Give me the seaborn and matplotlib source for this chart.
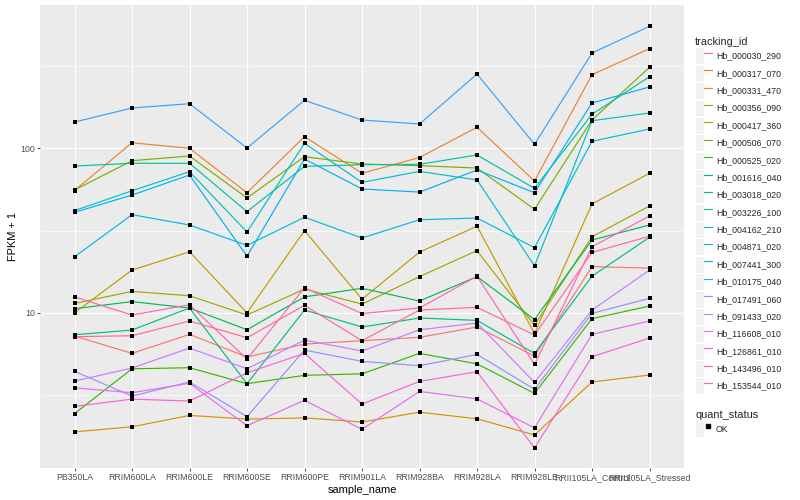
import numpy as np
import pandas as pd
import matplotlib.pyplot as plt
import seaborn as sns
from matplotlib.lines import Line2D
from matplotlib.patches import Patch
from matplotlib.legend_handler import HandlerTuple
from matplotlib.ticker import FixedLocator

# sample order on the x axis
samples = ["PB350LA", "RRIM600LA", "RRIM600LE", "RRIM600SE", "RRIM600PE",
           "RRIM901LA", "RRIM928BA", "RRIM928LA", "RRIM928LE",
           "RRII105LA_Control", "RRII105LA_Stressed"]

tracking_ids = ["Hb_000030_290", "Hb_000317_070", "Hb_000331_470", "Hb_000356_090",
                "Hb_000417_360", "Hb_000506_070", "Hb_000525_020", "Hb_001616_040",
                "Hb_003018_020", "Hb_003226_100", "Hb_004162_210", "Hb_004871_020",
                "Hb_007441_300", "Hb_010175_040", "Hb_017491_060", "Hb_091433_020",
                "Hb_116608_010", "Hb_126861_010", "Hb_143496_010", "Hb_153544_010"]

# ggplot hue palette, 20 levels
gg_colors = ["#F8766D", "#EA8331", "#D89000", "#C09B00", "#A3A500", "#7CAE00",
             "#39B600", "#00BB4E", "#00BF7D", "#00C1A3", "#00BFC4", "#00BAE0",
             "#00B0F6", "#35A2FF", "#9590FF", "#C77CFF", "#E76BF3", "#FA62DB",
             "#FF62BC", "#FF6C91"]

# FPKM + 1, one list per gene, same order as samples
hb_000030_290 = [7.23, 5.67, 7.40, 5.39, 6.46, 6.77, 7.10, 8.2, 5.46, 19.1, 18.7]
hb_000317_070 = [55.4, 108.1, 100.0, 53.7, 117.6, 70.5, 87.9, 134.2, 63.3, 280.2, 403.3]
hb_000331_470 = [1.89, 2.03, 2.38, 2.26, 2.30, 2.17, 2.49, 2.27, 1.81, 3.80, 4.19]
hb_000356_090 = [10.0, 18.2, 23.5, 10.0, 31.6, 12.1, 23.4, 33.6, 7.5, 45.9, 70.5]
hb_000417_360 = [11.4, 13.5, 12.7, 9.7, 13.95, 11.3, 16.6, 23.9, 8.4, 29.0, 44.6]
hb_000506_070 = [55.8, 84.1, 89.8, 49.9, 88.9, 80.3, 78.4, 75.9, 42.6, 148.6, 310.6]
hb_000525_020 = [2.44, 4.57, 4.64, 3.71, 4.17, 4.26, 5.67, 4.90, 3.24, 9.21, 11.0]
hb_001616_040 = [10.6, 11.7, 10.7, 7.9, 12.5, 14.1, 11.8, 16.6, 9.1, 27.7, 34.2]
hb_003018_020 = [7.36, 7.86, 10.7, 3.71, 10.4, 8.2, 9.3, 9.0, 5.67, 16.7, 28.8]
hb_003226_100 = [78.0, 81.1, 81.1, 41.2, 77.7, 79.5, 79.9, 91.1, 57.1, 160.9, 272.4]
hb_004162_210 = [41.8, 55.2, 72.1, 31.0, 107.2, 62.1, 72.4, 64.2, 19.3, 147.1, 163.9]
hb_004871_020 = [21.9, 39.5, 34.2, 25.7, 38.1, 28.5, 36.8, 37.7, 24.9, 110.3, 131.0]
hb_007441_300 = [40.8, 52.0, 68.8, 22.1, 86.1, 56.6, 54.2, 73.8, 53.7, 188.5, 235.9]
hb_010175_040 = [144.5, 175.8, 186.7, 100.4, 195.8, 148.6, 140.5, 283.0, 105.8, 379.5, 551.6]
hb_017491_060 = [4.41, 3.12, 3.80, 2.34, 5.94, 5.07, 4.77, 5.59, 3.43, 9.93, 12.25]
hb_091433_020 = [3.85, 4.62, 6.11, 4.57, 6.83, 5.86, 7.89, 8.67, 3.78, 10.4, 18.2]
hb_116608_010 = [3.50, 3.27, 3.73, 2.06, 2.94, 1.96, 3.33, 3.00, 2.00, 7.40, 8.92]
hb_126861_010 = [2.70, 2.99, 2.91, 4.32, 5.67, 2.79, 3.83, 4.39, 1.51, 5.41, 7.03]
hb_143496_010 = [12.5, 9.7, 11.2, 5.24, 14.2, 9.9, 10.7, 16.7, 4.86, 25.2, 38.8]
hb_153544_010 = [7.16, 7.26, 8.92, 7.06, 11.1, 6.77, 10.4, 10.8, 7.33, 23.3, 29.2]

series = [hb_000030_290, hb_000317_070, hb_000331_470, hb_000356_090, hb_000417_360,
          hb_000506_070, hb_000525_020, hb_001616_040, hb_003018_020, hb_003226_100,
          hb_004162_210, hb_004871_020, hb_007441_300, hb_010175_040, hb_017491_060,
          hb_091433_020, hb_116608_010, hb_126861_010, hb_143496_010, hb_153544_010]

rows = []
for tid, vals in zip(tracking_ids, series):
    for s, v in zip(samples, vals):
        rows.append({"tracking_id": tid, "sample_name": s, "fpkm1": v, "quant_status": "OK"})
df = pd.DataFrame(rows)
df["xpos"] = df["sample_name"].map({s: i for i, s in enumerate(samples)})

sns.set_theme(style="darkgrid")
plt.rcParams["font.family"] = ["Liberation Sans", "DejaVu Sans"]
plt.rcParams["axes.facecolor"] = "#EBEBEB"
plt.rcParams["figure.facecolor"] = "white"

palette = dict(zip(tracking_ids, gg_colors))

fig = plt.figure(figsize=(8, 5), dpi=100)
ax = fig.add_axes([40 / 800, 1 - 468 / 500, (684 - 40) / 800, (468 - 5) / 500])

sns.lineplot(data=df, x="xpos", y="fpkm1", hue="tracking_id", palette=palette,
             hue_order=tracking_ids, estimator=None, sort=False, linewidth=0.85,
             legend=False, ax=ax, zorder=2)
sns.scatterplot(data=df, x="xpos", y="fpkm1", color="black", marker="s", s=11,
                linewidth=0, legend=False, ax=ax, zorder=3)

ax.set_yscale("log")
ax.set_xlim(-0.6, len(samples) - 0.4)
ax.set_ylim(10 ** 0.057, 10 ** 2.871)
ax.set_xticks(range(len(samples)))
ax.set_xticklabels(samples)
ax.set_yticks([10, 100])
ax.set_yticklabels(["10", "100"])
ax.yaxis.set_minor_locator(FixedLocator([10 ** 0.5, 10 ** 1.5, 10 ** 2.5]))
ax.xaxis.set_minor_locator(FixedLocator([]))

ax.grid(which="major", color="white", linewidth=0.8)
ax.grid(which="minor", axis="y", color="white", linewidth=0.4)
ax.tick_params(which="major", length=2, width=0.6, color="#333333", labelsize=6.3,
               labelcolor="#4D4D4D", pad=1.5, bottom=True, left=True)
ax.tick_params(which="minor", length=0)
for sp in ax.spines.values():
    sp.set_visible(False)

ax.set_xlabel("sample_name", fontsize=7.9, color="black", labelpad=2)
ax.set_ylabel("FPKM + 1", fontsize=7.9, color="black", labelpad=2)

# legends, ggplot-like grey key boxes
key_bg = dict(facecolor="#F2F2F2", edgecolor="white", linewidth=0.8)
leg_kw = dict(loc="upper left", frameon=False, fontsize=6.3, title_fontsize=7.9,
              handlelength=1.95, handleheight=2.6, labelspacing=0.05,
              handletextpad=0.45, borderpad=0, borderaxespad=0, alignment="left",
              handler_map={tuple: HandlerTuple(ndivide=None, pad=0)})

handles = [(Patch(**key_bg), Line2D([], [], color=c, linewidth=0.85)) for c in gg_colors]
leg1 = fig.legend(handles, tracking_ids, title="tracking_id",
                  bbox_to_anchor=(695 / 800, 1 - 37 / 500), **leg_kw)

ok_handle = [(Patch(**key_bg), Line2D([], [], color="black", marker="s", markersize=2.8,
                                      linestyle="none"))]
leg2 = fig.legend(ok_handle, ["OK"], title="quant_status",
                  bbox_to_anchor=(695 / 800, 1 - 410 / 500), **leg_kw)

fig.savefig("out.png", dpi=100)
